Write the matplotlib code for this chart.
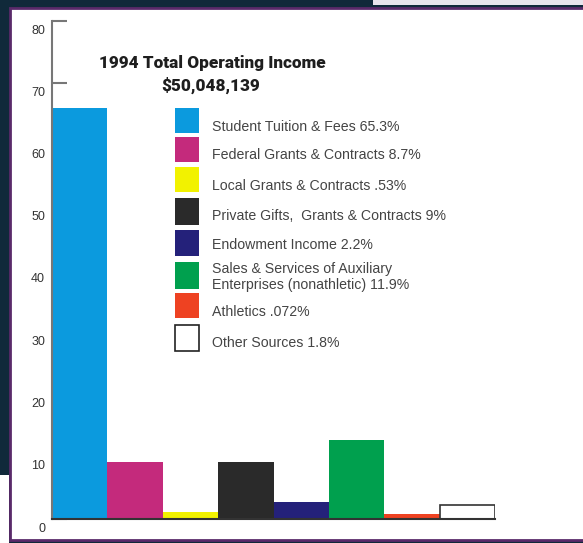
import matplotlib
matplotlib.use("Agg")
import matplotlib.pyplot as plt
from matplotlib.patches import Rectangle
from matplotlib.transforms import ScaledTranslation

# values (percent of total)
categories = ["Student Tuition & Fees", "Federal Grants & Contracts",
              "Local Grants & Contracts", "Private Gifts, Grants & Contracts",
              "Endowment Income", "Sales & Services of Auxiliary Enterprises",
              "Athletics", "Other Sources"]
values = [66.0, 9.2, 1.1, 9.2, 2.7, 12.7, 0.8, 2.2]
colors = ["#0b9ade", "#c42a7c", "#f2f200", "#2a2a2a",
          "#24217a", "#00a04e", "#ee4222", "#ffffff"]
legend_labels = ["Student Tuition & Fees 65.3%",
                 "Federal Grants & Contracts 8.7%",
                 "Local Grants & Contracts .53%",
                 "Private Gifts,  Grants & Contracts 9%",
                 "Endowment Income 2.2%",
                 "Sales & Services of Auxiliary\nEnterprises (nonathletic) 11.9%",
                 "Athletics .072%",
                 "Other Sources 1.8%"]
yticks = [0, 10, 20, 30, 40, 50, 60, 70, 80]

W, H = 583, 543
fig = plt.figure(figsize=(W / 100, H / 100), dpi=100, facecolor="#10293a")


def fx(px):
    return px / W


def fy(py):
    return 1 - py / H


# white paper panel with purple border (photographed page)
fig.add_artist(Rectangle((fx(0), fy(543)), fx(9), 68 / H, transform=fig.transFigure,
                         facecolor="white", edgecolor="none", zorder=-2))
fig.add_artist(Rectangle((fx(373), fy(5)), fx(210), 5 / H, transform=fig.transFigure,
                         facecolor="#e8e4ec", edgecolor="none", zorder=-2))
fig.add_artist(Rectangle((fx(10), fy(540)), fx(580), 532 / H, transform=fig.transFigure,
                         facecolor="white", edgecolor="#5a2a6a", linewidth=2, zorder=-2))

ax = fig.add_axes([fx(52), fy(519), fx(495 - 52), (519 - 21) / H])
ax.set_facecolor("none")
ax.set_axisbelow(True)

x = range(len(values))
ax.bar(x, values, width=1.0, align="edge", color=colors,
       edgecolor=["none"] * 7 + ["#333333"], linewidth=1.2)

ax.set_xlim(0, len(values))
ax.set_ylim(0, 80)
ax.set_xticks([])
ax.set_yticks(yticks)
ax.set_yticklabels([str(t) for t in yticks], fontsize=9, color="#333333",
                   family="Liberation Sans")
ax.tick_params(axis="y", direction="in", length=11, width=1.5, color="#777777", pad=5)
offset = ScaledTranslation(0, -8 / 100, fig.dpi_scale_trans)
for lab in ax.get_yticklabels():
    lab.set_transform(lab.get_transform() + offset)

for s in ["top", "right"]:
    ax.spines[s].set_visible(False)
ax.spines["left"].set_color("#777777")
ax.spines["left"].set_linewidth(1.5)
ax.spines["bottom"].set_color("#333333")
ax.spines["bottom"].set_linewidth(1.5)

# title
fig.text(fx(212), fy(63), "1994 Total Operating Income", ha="center", va="center",
         fontsize=12.3, fontweight="black", color="#1e1e1e", family="Roboto")
fig.text(fx(211), fy(85), "$50,048,139", ha="center", va="center",
         fontsize=12.3, fontweight="black", color="#1e1e1e", family="Roboto")

# legend
box_tops = [108, 137, 167, 198, 230, 262, 293, 325]
box_h = [25, 25, 25, 27, 26, 27, 25, 26]
text_y = [127, 155, 186, 216, 245, 277, 312, 343]
for c, lab, top, h, ty in zip(colors, legend_labels, box_tops, box_h, text_y):
    fig.add_artist(Rectangle((fx(175), fy(top + h)), fx(24), h / H,
                             transform=fig.transFigure, facecolor=c,
                             edgecolor="#222222" if c == "#ffffff" else "none",
                             linewidth=1.2))
    fig.text(fx(212), fy(ty), lab, ha="left", va="center", fontsize=10.2,
             color="#444444", family="Liberation Sans", linespacing=1.25)

fig.savefig("out.png", dpi=100, facecolor=fig.get_facecolor())
